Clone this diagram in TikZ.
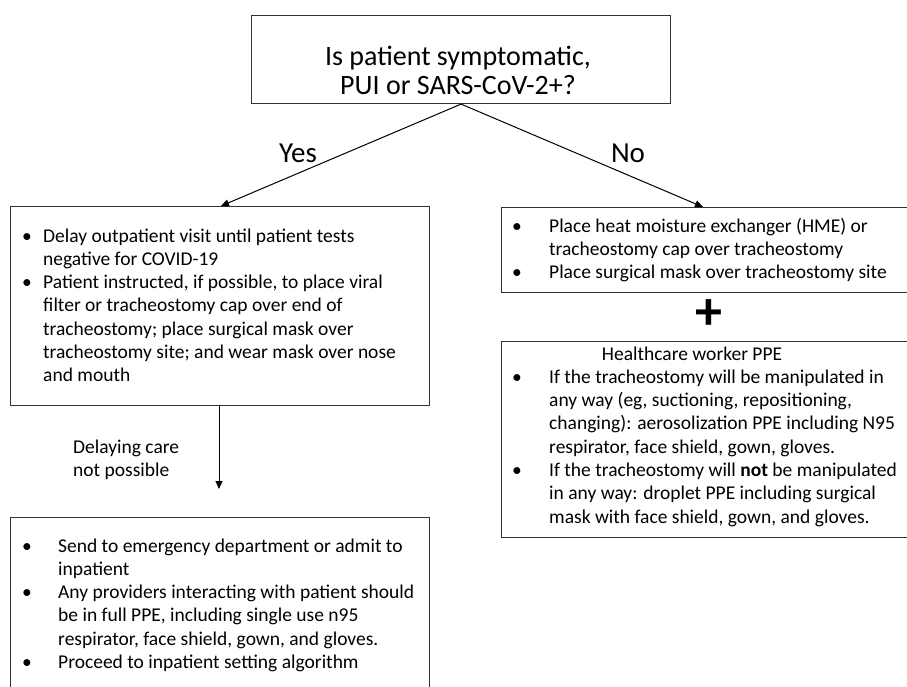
\documentclass[tikz,border=0pt]{standalone}
\usepackage{fontspec}
\setmainfont{Carlito}
\usetikzlibrary{arrows.meta}
\tikzset{
  box/.style={draw=black!80, line width=1.1pt, anchor=north west, inner sep=0pt},
  arr/.style={line width=1pt, -{Triangle[length=8pt,width=7pt]}},
  body/.style={anchor=base west, inner sep=0pt, font=\fontsize{19.5}{23.3}\selectfont},
}
\newcommand{\blist}[2]{\begin{tabular}[t]{@{}p{#1}@{}l@{}}#2\end{tabular}}
\begin{document}
\begin{tikzpicture}[x=1pt,y=-1pt]
\useasboundingbox (0,0) rectangle (907,687);
\clip (0,0) rectangle (907,687);
% boxes
\node[box, minimum width=419pt, minimum height=88pt] (q) at (251,15) {};
\node[box, minimum width=419pt, minimum height=199pt] (L) at (10,206) {};
\node[box, minimum width=430pt, minimum height=85pt] (R1) at (501,207) {};
\node[box, minimum width=430pt, minimum height=196pt] (R2) at (501,341) {};
\node[box, minimum width=419pt, minimum height=200pt] (B) at (10,517) {};
% question
\node[inner sep=0pt, font=\fontsize{28}{28.5}\selectfont, anchor=base] (qt) at (458,66)
  {\begin{tabular}[t]{@{}c@{}}Is patient symptomatic,\\PUI or SARS-CoV-2+?\end{tabular}};
% connectors
\coordinate (Ltop) at (221,206);
\coordinate (Rtop) at (703,207);
\coordinate (Btop) at (219,489);
\coordinate (Lbot) at (219,405);
\draw[arr] (q.south) -- (Ltop);
\draw[arr] (q.south) -- (Rtop);
\draw[arr] (Lbot) -- (Btop);
\node[inner sep=0pt, anchor=base, font=\fontsize{29}{30}\selectfont] (yes) at (298,163) {Yes};
\node[inner sep=0pt, anchor=base, font=\fontsize{29}{30}\selectfont] (no) at (628,163) {No};
% left box text
\node[body] (Lt) at (22,242) {\blist{21pt}{%
\textbullet & Delay outpatient visit until patient tests\\
 & negative for COVID-19\\
\textbullet & Patient instructed, if possible, to place viral\\
 & filter or tracheostomy cap over end of\\
 & tracheostomy; place surgical mask over\\
 & tracheostomy site; and wear mask over nose\\
 & and mouth}};
% right box 1 text
\node[body] (R1t) at (512,232) {\blist{37pt}{%
\textbullet & Place heat moisture exchanger (HME) or\\
 & tracheostomy cap over tracheostomy\\
\textbullet & Place surgical mask over tracheostomy site}};
% plus
\node[inner sep=0pt, font=\bfseries\fontsize{54}{54}\selectfont] (plus) at (709,315) {+};
% right box 2 text
\node[body, anchor=base] (R2h) at (692,360) {Healthcare worker PPE};
\node[body] (R2t) at (512,383.3) {\blist{37pt}{%
\textbullet & If the tracheostomy will be manipulated in\\
 & any way (eg, suctioning, repositioning,\\
 & changing): aerosolization PPE including N95\\
 & respirator, face shield, gown, gloves.\\
\textbullet & If the tracheostomy will \textbf{not} be manipulated\\
 & in any way: droplet PPE including surgical\\
 & mask with face shield, gown, and gloves.}};
% delaying
\node[body] (dl) at (73,453) {\begin{tabular}[t]{@{}l@{}}Delaying care\\not possible\end{tabular}};
% bottom box text
\node[body] (Bt) at (22,552) {\blist{36pt}{%
\textbullet & Send to emergency department or admit to\\
 & inpatient\\
\textbullet & Any providers interacting with patient should\\
 & be in full PPE, including single use n95\\
 & respirator, face shield, gown, and gloves.\\
\textbullet & Proceed to inpatient setting algorithm}};
\end{tikzpicture}
\end{document}
